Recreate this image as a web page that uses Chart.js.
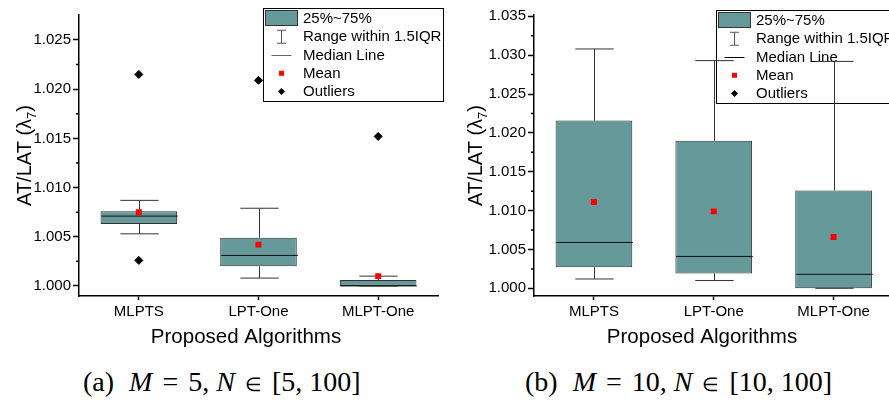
<!DOCTYPE html>
<html>
<head>
<meta charset="utf-8">
<script src="https://cdn.jsdelivr.net/npm/chart.js@4"></script>
<style>
  html, body { margin: 0; padding: 0; background: #fff; overflow: hidden; }
  #page { position: relative; width: 889px; height: 403px; overflow: hidden; background: #fff; }
  .panel { position: absolute; top: 0; }
  .caption {
    position: absolute; top: 368px; text-align: left;
    font-family: 'Liberation Serif', 'Times New Roman', serif;
    font-size: 28px; line-height: 28px; white-space: nowrap; color: #000;
  }
  .caption .el { font-size: 19px; margin: 0 3px; }
  .caption .eq { margin: 0 3px; }
  .caption .gap { margin-left: 15px; }
</style>
</head>
<body>
<div id="page">
  <canvas id="chartA" class="panel" style="left:0" width="445" height="350"></canvas>
  <canvas id="chartB" class="panel" style="left:445px" width="455" height="350"></canvas>
  <div class="caption" style="left:83px">(a)<span class="gap"></span><i>M</i> <span class="eq">=</span> 5, <i>N</i> <span class="el">∈</span> [5, 100]</div>
  <div class="caption" style="left:525px">(b)<span class="gap"></span><i>M</i> <span class="eq">=</span> 10, <i>N</i> <span class="el">∈</span> [10, 100]</div>
</div>
<script>
const categories = ['MLPTS', 'LPT-One', 'MLPT-One'];
const legendLabels = ['25%~75%', 'Range within 1.5IQR', 'Median Line', 'Mean', 'Outliers'];

// (a) M = 5
const lowA = [1.0053, 1.0008, 1.0000];
const q1A = [1.0063, 1.0020, 1.0000];
const medianA = [1.0071, 1.0031, 1.0000];
const q3A = [1.0076, 1.0049, 1.0006];
const highA = [1.0087, 1.0079, 1.0010];
const meanA = [1.0075, 1.0042, 1.0010];
const outliersA = [[1.0215, 1.0026], [1.0209], [1.0152]];
const ticksA = [1.000, 1.005, 1.010, 1.015, 1.020, 1.025];

// (b) M = 10
const lowB = [1.0012, 1.0010, 1.0000];
const q1B = [1.0027, 1.0019, 1.0000];
const medianB = [1.0059, 1.0041, 1.0018];
const q3B = [1.0216, 1.0190, 1.0126];
const highB = [1.0308, 1.0293, 1.0292];
const meanB = [1.0111, 1.0099, 1.0066];
const outliersB = [[], [], []];
const ticksB = [1.000, 1.005, 1.010, 1.015, 1.020, 1.025, 1.030, 1.035];

const SANS = "'Liberation Sans', Arial, sans-serif";
const BOX_FILL = '#669999';
const BOX_EDGE = '#333333';
const WHISKER = '#333333';

function makeChart(id, p) {
  // whiskers + median, drawn right after the boxes
  const boxParts = {
    id: 'boxParts',
    afterDatasetDraw(chart, args) {
      if (args.index !== 0) return;
      const ctx = chart.ctx, ys = chart.scales.y;
      chart.getDatasetMeta(0).data.forEach((bar, i) => {
        const cx = Math.round(bar.x) + 0.5;
        const half = bar.width / 2, cap = bar.width / 4;
        const yLow = ys.getPixelForValue(p.low[i]);
        const yQ1 = ys.getPixelForValue(p.q1[i]);
        const yQ3 = ys.getPixelForValue(p.q3[i]);
        const yHigh = ys.getPixelForValue(p.high[i]);
        const yMed = ys.getPixelForValue(p.median[i]);
        ctx.save();
        ctx.lineWidth = 1;
        ctx.strokeStyle = WHISKER;
        ctx.beginPath();
        ctx.moveTo(cx, yQ3); ctx.lineTo(cx, yHigh);
        ctx.moveTo(cx - cap, yHigh); ctx.lineTo(cx + cap, yHigh);
        ctx.moveTo(cx, yQ1); ctx.lineTo(cx, yLow);
        ctx.moveTo(cx - cap, yLow); ctx.lineTo(cx + cap, yLow);
        ctx.stroke();
        ctx.strokeStyle = '#111';
        ctx.beginPath();
        ctx.moveTo(cx - half, yMed); ctx.lineTo(cx + half, yMed);
        ctx.stroke();
        ctx.restore();
      });
    }
  };

  // legend box sits under the data
  const boxLegend = {
    id: 'boxLegend',
    beforeDatasetsDraw(chart) {
      const ctx = chart.ctx, L = p.legend;
      const row = i => L.y + 10.5 + 18.25 * i;
      const ix = L.x + 18.5;
      ctx.save();
      ctx.fillStyle = '#fff';
      ctx.fillRect(L.x, L.y, L.w, L.h);
      ctx.strokeStyle = '#000';
      ctx.lineWidth = 1;
      ctx.strokeRect(L.x + 0.5, L.y + 0.5, L.w, L.h);
      // box swatch
      ctx.fillStyle = BOX_FILL;
      ctx.fillRect(L.x + 2.5, L.y + 2.5, 32, 15);
      ctx.strokeStyle = BOX_EDGE;
      ctx.strokeRect(L.x + 2.5, L.y + 2.5, 32, 15);
      // whisker icon
      ctx.strokeStyle = '#555';
      ctx.beginPath();
      ctx.moveTo(ix, row(1) - 6.5); ctx.lineTo(ix, row(1) + 6.5);
      ctx.moveTo(ix - 4.5, row(1) - 6.5); ctx.lineTo(ix + 4.5, row(1) - 6.5);
      ctx.moveTo(ix - 4.5, row(1) + 6.5); ctx.lineTo(ix + 4.5, row(1) + 6.5);
      ctx.stroke();
      // median icon
      ctx.strokeStyle = p.medianIcon;
      ctx.beginPath();
      ctx.moveTo(ix - 10, row(2) + 0.5); ctx.lineTo(ix + 10, row(2) + 0.5);
      ctx.stroke();
      // mean
      ctx.fillStyle = '#ff0000';
      ctx.fillRect(ix - 2.5, row(3) - 2.5, 5, 5);
      // outlier diamond
      ctx.fillStyle = '#000';
      ctx.beginPath();
      ctx.moveTo(ix, row(4) - 3.5); ctx.lineTo(ix + 3.5, row(4));
      ctx.lineTo(ix, row(4) + 3.5); ctx.lineTo(ix - 3.5, row(4));
      ctx.closePath(); ctx.fill();
      // texts
      ctx.font = '15px ' + SANS;
      ctx.fillStyle = '#000';
      ctx.textBaseline = 'middle';
      ctx.textAlign = 'left';
      legendLabels.forEach((t, i) => ctx.fillText(t, L.x + 40, row(i) + 0.5));
      ctx.restore();
    }
  };

  // axis titles and minor ticks
  const extras = {
    id: 'extras',
    afterDraw(chart) {
      const ctx = chart.ctx, ca = chart.chartArea, ys = chart.scales.y;
      ctx.save();
      ctx.strokeStyle = '#000';
      ctx.lineWidth = 1.5;
      ctx.beginPath();
      for (let i = 0; i < p.ticks.length - 1; i++) {
        const y = ys.getPixelForValue((p.ticks[i] + p.ticks[i + 1]) / 2);
        ctx.moveTo(ca.left - 3, y); ctx.lineTo(ca.left, y);
      }
      ctx.stroke();

      ctx.fillStyle = '#000';
      ctx.textBaseline = 'alphabetic';
      ctx.textAlign = 'center';
      ctx.font = '20.5px ' + SANS;
      ctx.fillText('Proposed Algorithms', p.xTitleX, 343);

      ctx.translate(p.yTitleX, (ca.top + ca.bottom) / 2);
      ctx.rotate(-Math.PI / 2);
      ctx.textAlign = 'left';
      const big = '20px ' + SANS, small = '13px ' + SANS;
      const parts = [['AT/LAT (', big, 0], ['\u03bb', big, 0], ['7', small, 5], [')', big, 0]];
      let w = 0;
      parts.forEach(pt => { ctx.font = pt[1]; w += ctx.measureText(pt[0]).width; });
      let x = -w / 2;
      parts.forEach(pt => {
        ctx.font = pt[1];
        ctx.fillText(pt[0], x, pt[2]);
        x += ctx.measureText(pt[0]).width;
      });
      ctx.restore();
    }
  };

  const outlierPts = [];
  p.outliers.forEach((list, i) => list.forEach(v => outlierPts.push({ x: categories[i], y: v })));

  return new Chart(document.getElementById(id), {
    type: 'bar',
    data: {
      labels: categories,
      datasets: [
        {
          type: 'bar',
          data: p.q1.map((v, i) => [v, p.q3[i]]),
          backgroundColor: BOX_FILL,
          borderColor: BOX_EDGE,
          borderWidth: 1,
          borderSkipped: false,
          barPercentage: 0.64,
          categoryPercentage: 1,
          order: 2
        },
        {
          type: 'line',
          data: p.mean.map((v, i) => ({ x: categories[i], y: v })),
          showLine: false,
          pointStyle: 'rect',
          pointRadius: 4.2,
          pointBackgroundColor: '#ff0000',
          pointBorderWidth: 0,
          order: 0
        },
        {
          type: 'line',
          data: outlierPts,
          showLine: false,
          pointStyle: 'rectRot',
          pointRadius: 4,
          pointBackgroundColor: '#000',
          pointBorderColor: '#000',
          pointBorderWidth: 1,
          order: 1
        }
      ]
    },
    options: {
      responsive: false,
      animation: false,
      layout: { padding: { top: 15, right: p.padRight, left: 0, bottom: 24 } },
      plugins: { legend: { display: false }, tooltip: { enabled: false } },
      scales: {
        x: {
          type: 'category',
          offset: true,
          grid: { drawOnChartArea: false, offset: false, tickLength: 4, tickColor: '#000', tickWidth: 1.5 },
          border: { color: '#000', width: 1.5 },
          ticks: { color: '#000', font: { family: SANS, size: 15 }, padding: 3, maxRotation: 0, autoSkip: false },
          afterFit: s => { s.height = 30; }
        },
        y: {
          min: p.min,
          max: p.max,
          afterBuildTicks: s => { s.ticks = p.ticks.map(v => ({ value: v })); },
          grid: { drawOnChartArea: false, tickLength: 6, tickColor: '#000', tickWidth: 1.5 },
          border: { color: '#000', width: 1.5 },
          ticks: { color: '#000', font: { family: SANS, size: 15 }, padding: 2, callback: v => v.toFixed(3) },
          afterFit: s => { s.width = p.yWidth; }
        }
      }
    },
    plugins: [boxParts, boxLegend, extras]
  });
}

makeChart('chartA', {
  low: lowA, q1: q1A, median: medianA, q3: q3A, high: highA, mean: meanA, outliers: outliersA,
  ticks: ticksA, min: 0.99898, max: 1.02754,
  yWidth: 79, padRight: 7, xTitleX: 246, yTitleX: 31,
  legend: { x: 263, y: 8, w: 180, h: 93 }, medianIcon: '#666'
});

makeChart('chartB', {
  low: lowB, q1: q1B, median: medianB, q3: q3B, high: highB, mean: meanB, outliers: outliersB,
  ticks: ticksB, min: 0.99901, max: 1.03517,
  yWidth: 89, padRight: 6.5, xTitleX: 257, yTitleX: 37,
  legend: { x: 271, y: 10, w: 200, h: 93 }, medianIcon: '#000'
});
</script>
</body>
</html>
